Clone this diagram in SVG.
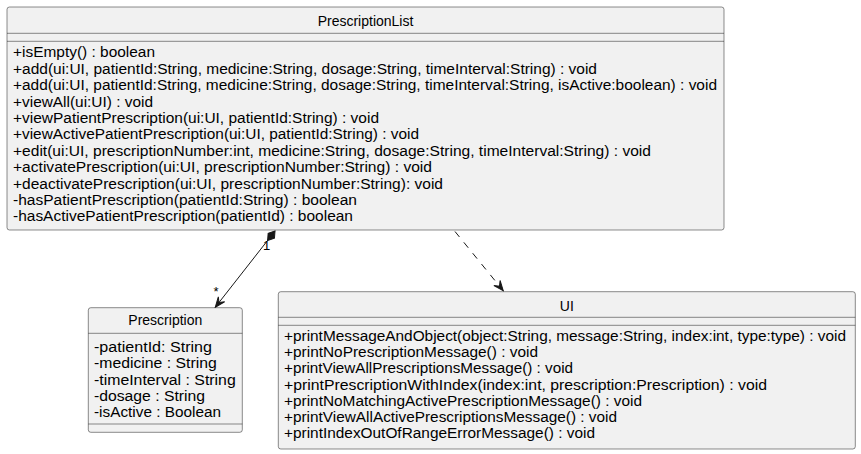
<svg xmlns="http://www.w3.org/2000/svg" width="861" height="454" viewBox="0 0 861 454">
<style>
.box{fill:#F1F1F1;stroke:#181818;stroke-width:0.5}
.sep{stroke:#181818;stroke-width:0.5}
text{font-family:"Liberation Sans",Arial,sans-serif;font-size:14px;fill:#000}
.title{text-anchor:middle}
.lbl{font-size:13px}
.edge{fill:none;stroke:#181818;stroke-width:1}
</style>
<defs>
<marker id="arrow" viewBox="-11 -5 12 10" refX="0" refY="0" markerWidth="12" markerHeight="10" markerUnits="userSpaceOnUse" orient="auto">
<path d="M0,0 L-10,-4 L-6,0 L-10,4 Z" fill="#181818" stroke="#181818" stroke-width="1"/>
</marker>
<marker id="diamond" viewBox="-1 -5 14 10" refX="0" refY="0" markerWidth="14" markerHeight="10" markerUnits="userSpaceOnUse" orient="auto">
<path d="M0,0 L6,-4 L12,0 L6,4 Z" fill="#181818" stroke="#181818" stroke-width="1"/>
</marker>
</defs>
<g id="PrescriptionList">
<rect class="box" x="7" y="7" width="717" height="223" rx="2.5"/>
<line class="sep" x1="7" y1="33.3" x2="724" y2="33.3"/>
<line class="sep" x1="7" y1="41.3" x2="724" y2="41.3"/>
<text class="title" x="365.5" y="26">PrescriptionList</text>
<text x="13" y="57.3" textLength="142" lengthAdjust="spacingAndGlyphs">+isEmpty() : boolean</text>
<text x="13" y="73.7" textLength="584" lengthAdjust="spacingAndGlyphs">+add(ui:UI, patientId:String, medicine:String, dosage:String, timeInterval:String) : void</text>
<text x="13" y="90.1" textLength="704" lengthAdjust="spacingAndGlyphs">+add(ui:UI, patientId:String, medicine:String, dosage:String, timeInterval:String, isActive:boolean) : void</text>
<text x="13" y="106.5" textLength="140" lengthAdjust="spacingAndGlyphs">+viewAll(ui:UI) : void</text>
<text x="13" y="122.9" textLength="366" lengthAdjust="spacingAndGlyphs">+viewPatientPrescription(ui:UI, patientId:String) : void</text>
<text x="13" y="139.3" textLength="406" lengthAdjust="spacingAndGlyphs">+viewActivePatientPrescription(ui:UI, patientId:String) : void</text>
<text x="13" y="155.7" textLength="638" lengthAdjust="spacingAndGlyphs">+edit(ui:UI, prescriptionNumber:int, medicine:String, dosage:String, timeInterval:String) : void</text>
<text x="13" y="172.1" textLength="419" lengthAdjust="spacingAndGlyphs">+activatePrescription(ui:UI, prescriptionNumber:String) : void</text>
<text x="13" y="188.5" textLength="430" lengthAdjust="spacingAndGlyphs">+deactivatePrescription(ui:UI, prescriptionNumber:String): void</text>
<text x="13" y="204.9" textLength="344" lengthAdjust="spacingAndGlyphs">-hasPatientPrescription(patientId:String) : boolean</text>
<text x="13" y="221.3" textLength="340" lengthAdjust="spacingAndGlyphs">-hasActivePatientPrescription(patientId) : boolean</text>
</g>
<g id="Prescription">
<rect class="box" x="88.3" y="307.7" width="154" height="124.6" rx="2.5"/>
<line class="sep" x1="88.3" y1="333.3" x2="242.3" y2="333.3"/>
<line class="sep" x1="88.3" y1="424" x2="242.3" y2="424"/>
<text class="title" x="165.3" y="325.3">Prescription</text>
<text x="94" y="352" textLength="118" lengthAdjust="spacingAndGlyphs">-patientId: String</text>
<text x="94" y="368.3" textLength="122.7" lengthAdjust="spacingAndGlyphs">-medicine : String</text>
<text x="94" y="384.6" textLength="141.7" lengthAdjust="spacingAndGlyphs">-timeInterval : String</text>
<text x="94" y="400.9" textLength="111" lengthAdjust="spacingAndGlyphs">-dosage : String</text>
<text x="94" y="417.2" textLength="127" lengthAdjust="spacingAndGlyphs">-isActive : Boolean</text>
</g>
<g id="UI">
<rect class="box" x="278.3" y="291.7" width="577" height="157.3" rx="2.5"/>
<line class="sep" x1="278.3" y1="317.3" x2="855.3" y2="317.3"/>
<line class="sep" x1="278.3" y1="325.3" x2="855.3" y2="325.3"/>
<text class="title" x="566.8" y="311">UI</text>
<text x="284" y="340.6" textLength="562" lengthAdjust="spacingAndGlyphs">+printMessageAndObject(object:String, message:String, index:int, type:type) : void</text>
<text x="284" y="356.9" textLength="254" lengthAdjust="spacingAndGlyphs">+printNoPrescriptionMessage() : void</text>
<text x="284" y="373.2" textLength="289" lengthAdjust="spacingAndGlyphs">+printViewAllPrescriptionsMessage() : void</text>
<text x="284" y="389.5" textLength="483" lengthAdjust="spacingAndGlyphs">+printPrescriptionWithIndex(index:int, prescription:Prescription) : void</text>
<text x="284" y="405.8" textLength="358" lengthAdjust="spacingAndGlyphs">+printNoMatchingActivePrescriptionMessage() : void</text>
<text x="284" y="422.1" textLength="333" lengthAdjust="spacingAndGlyphs">+printViewAllActivePrescriptionsMessage() : void</text>
<text x="284" y="438.4" textLength="311" lengthAdjust="spacingAndGlyphs">+printIndexOutOfRangeErrorMessage() : void</text>
</g>
<g id="connectors">
<path class="edge" d="M275,231 L215.3,307.2" marker-start="url(#diamond)" marker-end="url(#arrow)"/>
<text class="lbl" x="263" y="250">1</text>
<text class="lbl" x="213.5" y="296">*</text>
<path class="edge" d="M455,231.5 L503.3,290.8" stroke-dasharray="7,7" marker-end="url(#arrow)"/>
</g>
</svg>
